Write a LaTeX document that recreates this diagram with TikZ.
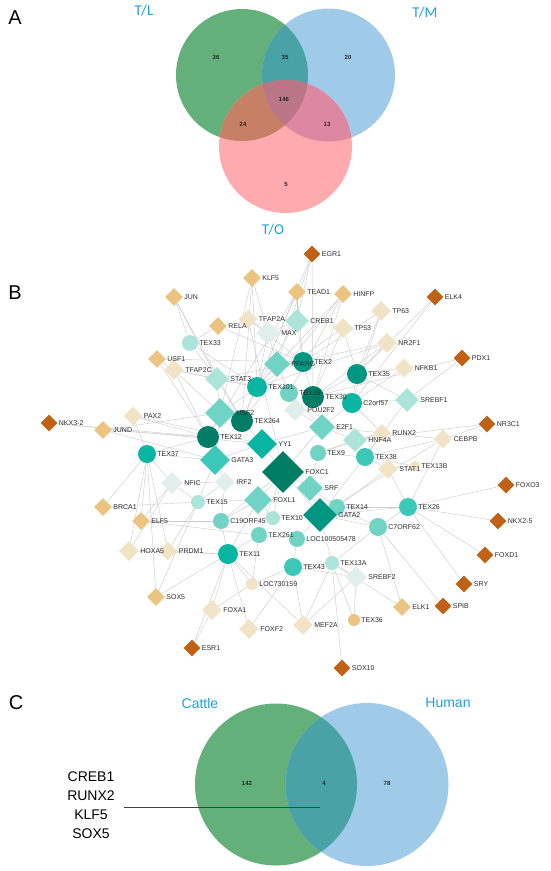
\documentclass[tikz,border=0pt]{standalone}
\usepackage{fontspec}
\setmainfont{Liberation Sans}
\newfontfamily\calib{Carlito}
\usetikzlibrary{shapes.geometric,backgrounds}

\definecolor{vgreen}{RGB}{99,176,122}
\definecolor{vblue}{RGB}{160,203,232}
\definecolor{vred}{RGB}{255,170,175}
\definecolor{vgb}{RGB}{72,162,166}
\definecolor{vgr}{RGB}{198,128,102}
\definecolor{vbr}{RGB}{220,136,160}
\definecolor{vgbr}{RGB}{186,118,135}
\definecolor{setblue}{RGB}{30,160,225}
\definecolor{brn}{RGB}{192,97,22}
\definecolor{orng}{RGB}{234,196,128}
\definecolor{beig}{RGB}{241,227,198}
\definecolor{teaA}{RGB}{0,125,100}
\definecolor{teaB}{RGB}{0,150,130}
\definecolor{teaC}{RGB}{10,182,162}
\definecolor{teaD}{RGB}{60,200,185}
\definecolor{teaE}{RGB}{112,211,196}
\definecolor{teaF}{RGB}{172,228,218}
\definecolor{teaG}{RGB}{224,238,236}
\definecolor{edgegray}{RGB}{205,205,205}
\definecolor{lblgray}{RGB}{45,45,45}

% genes drawn as circles: name/x/y/size/colour/label
\def\genelist{
  texts/354/620/12/orng/TEX36, loc/252/584/12/beig/LOC730159, texlb/415/466/10/beig/TEX13B,
  texmm/190/343/16/teaF/TEX33, texoo/257/387/20/teaC/TEX101, texb/303/362/20/teaB/TEX2,
  texnn/289/393/18/teaE/TEX29, texth/313/397/22/teaA/TEX30, texfi/357/374/20/teaB/TEX35,
  corf/352/403/20/teaC/C2orf57, texss/242/421/22/teaA/TEX264, texkk/208/437/22/teaA/TEX12,
  texsv/147/454/18/teaC/TEX37, texn/318/453/16/teaE/TEX9, texei/365/457/18/teaD/TEX38,
  texfo/337/507/16/teaE/TEX14, texsx/408/507/18/teaD/TEX26, csev/378/527/18/teaE/C7ORF62,
  texten/273/518/14/teaF/TEX10, locb/297/539/16/teaE/LOC100505478, texto/259/535/16/teaE/TEX261,
  cnine/221/521/16/teaE/C19ORF45, texff/198/502/14/teaF/TEX15, texel/228/554/20/teaC/TEX11,
  texfh/293/567/18/teaD/TEX43, texla/332/563/14/teaF/TEX13A}
% transcription factors drawn as diamonds
\def\tflist{
  egr/312/254/17/brn/EGR1, elkf/435/297/17/brn/ELK4, pdx/462/358/17/brn/PDX1,
  nrtc/487/424/17/brn/NR3C1, foxo/506/485/17/brn/FOXO3, nkxf/498/521/17/brn/NKX2-5,
  foxd/485/555/17/brn/FOXD1, sry/464/584/17/brn/SRY, spib/443/606/17/brn/SPIB,
  soxt/342/668/17/brn/SOX10, esr/192/648/17/brn/ESR1, nkxt/49/423/17/brn/NKX3-2,
  klf/252/278/18/orng/KLF5, jun/174/297/18/orng/JUN, tead/297/292/18/orng/TEAD1,
  hinfp/343/294/18/orng/HINFP, rela/218/326/18/orng/RELA, usfa/157/359/18/orng/USF1,
  jund/103/430/18/orng/JUND, brca/103/507/18/orng/BRCA1, elff/141/521/18/orng/ELF5,
  soxf/156/597/18/orng/SOX5, elka/402/607/18/orng/ELK1,
  tfapa/248/319/19/beig/TFAP2A, tpsix/381/311/20/beig/TP63, tpfive/343/328/20/beig/TP53,
  nrtf/387/343/20/beig/NR2F1, nfkb/404/368/19/beig/NFKB1, tfapc/174/370/20/beig/TFAP2C,
  pax/133/416/19/beig/PAX2, runx/382/433/18/beig/RUNX2, cebpb/443/439/19/beig/CEBPB,
  stata/388/469/20/beig/STAT1, hoxa/129/551/20/beig/HOXA5, prdm/168/551/19/beig/PRDM1,
  foxa/212/610/20/beig/FOXA1, foxf/249/629/20/beig/FOXF2, mef/303/625/20/beig/MEF2A,
  creb/297/321/24/teaF/CREB1, max/268/333/24/teaG/MAX, ppar/277/364/26/teaE/PPARG,
  statc/217/379/24/teaF/STAT3, usfb/220/413/30/teaE/USF2, gatac/215/460/30/teaD/GATA3,
  yy/262/444/30/teaC/YY1, foxc/283/472/42/teaA/FOXC1, foxl/258/500/28/teaE/FOXL1,
  srf/310/488/26/teaE/SRF, gatab/320/515/34/teaB/GATA2, etf/322/427/26/teaE/E2F1,
  hnf/355/440/24/teaF/HNF4A, srebfa/407/400/24/teaF/SREBF1, srebfb/356/577/22/teaG/SREBF2,
  nfic/172/483/22/teaG/NFIC, irf/225/482/20/teaG/IRF2, pou/295/410/22/teaG/POU2F2}

\begin{document}
\begin{tikzpicture}[
  x=1pt, y=-1pt,
  tf/.style={diamond, aspect=1, inner sep=0pt, draw=none},
  gn/.style={circle, inner sep=0pt, draw=none},
  lbl/.style={font=\fontsize{7}{8}\selectfont, text=lblgray, inner sep=0.5pt, anchor=west, xshift=0.5pt},
  edge/.style={draw=edgegray, line width=0.45pt},
  panel/.style={font=\fontsize{20}{24}\selectfont},
  setname/.style={text=setblue},
  count/.style={font=\fontsize{6}{7}\selectfont\bfseries, text=black!85},
]
  \useasboundingbox (0,0) rectangle (550,871);

  % panel A: three sets
  \node[panel] (pa) at (15,18) {A};
  \coordinate (tl) at (242,75);
  \coordinate (tm) at (328.5,75);
  \coordinate (to) at (285.5,146.5);
  \fill[vgreen] (tl) circle[radius=66];
  \fill[vblue] (tm) circle[radius=66.5];
  \fill[vred] (to) circle[radius=66.5];
  \begin{scope}
    \clip (tl) circle[radius=66];
    \fill[vgb] (tm) circle[radius=66.5];
    \fill[vgr] (to) circle[radius=66.5];
  \end{scope}
  \begin{scope}
    \clip (tm) circle[radius=66.5];
    \fill[vbr] (to) circle[radius=66.5];
    \clip (tl) circle[radius=66];
    \fill[vgbr] (to) circle[radius=66.5];
  \end{scope}
  \node[setname, font=\calib\fontsize{15}{16}\selectfont] (ntl) at (144,11) {T/L};
  \node[setname, font=\calib\fontsize{15}{16}\selectfont] (ntm) at (425,13) {T/M};
  \node[setname, font=\calib\fontsize{15}{16}\selectfont] (nto) at (273,230) {T/O};
  \node[count] (a36) at (216,57) {36};
  \node[count] (a35) at (285,57) {35};
  \node[count] (a20) at (348,57) {20};
  \node[count] (a146) at (284,99) {146};
  \node[count] (a24) at (243,124) {24};
  \node[count] (a13) at (327,124) {13};
  \node[count] (a5) at (286,184) {5};

  % panel B: network
  \node[panel] (pb) at (15,293) {B};
  \foreach \nm/\px/\py/\sz/\cl/\lab in \genelist
    \node[gn, minimum size=\sz, fill=\cl] (\nm) at (\px,\py) {};
  \foreach \nm/\px/\py/\sz/\cl/\lab in \tflist
    \node[tf, minimum size=\sz, fill=\cl] (\nm) at (\px,\py) {};
  % names on top of everything
  \foreach \nm/\px/\py/\sz/\cl/\lab in \genelist
    \node[lbl] (\nm-l) at (\nm.east) {\lab};
  \foreach \nm/\px/\py/\sz/\cl/\lab in \tflist
    \node[lbl] (\nm-l) at (\nm.east) {\lab};

  % interactions
  \begin{scope}[on background layer]
    \foreach \a/\b in {
      egr/texth, egr/ppar, egr/texoo, elkf/corf, elkf/texfi, pdx/texth, pdx/srebfa,
      nrtc/cebpb, nrtc/hnf, foxo/texsx, nkxf/texsx, foxd/texsx, sry/texsx, spib/csev,
      soxt/texla, esr/texel, esr/foxa, nkxt/texkk, klf/texoo, klf/texss, klf/max,
      jun/texmm, jun/texss, tead/creb, tead/texkk, tead/texb, hinfp/texoo, hinfp/texth,
      hinfp/texss, rela/texmm, rela/texb, usfa/texb, usfa/tfapc, usfa/texkk, jund/texkk,
      jund/gatac, brca/texsv, brca/texff, elff/texsv, elff/cnine, elff/texto, soxf/texsv,
      soxf/texel, elka/csev, elka/texla, texts/texla, texts/srebfb, tfapa/texb, tfapa/max,
      tfapa/foxc, tpsix/texfi, tpsix/corf, tpfive/texth, tpfive/texfi, tpfive/usfb,
      nrtf/texfi, nrtf/texth, nrtf/statc, nfkb/texfi, nfkb/corf, tfapc/texoo, tfapc/usfb,
      tfapc/texkk, pax/texsv, pax/texkk, pax/yy, runx/hnf, runx/corf, runx/texei,
      cebpb/texei, cebpb/texsx, cebpb/gatab, stata/texei, stata/texsx, stata/texfo,
      hoxa/texsv, hoxa/nfic, hoxa/texel, prdm/texel, prdm/texsv, prdm/texff, foxa/texel,
      foxa/loc, foxf/texel, foxf/texfh, mef/texfh, mef/srebfb, mef/texel, loc/texel,
      loc/texfh, loc/texto, texlb/stata, texlb/texei, creb/texb, creb/max, creb/texoo,
      max/texoo, max/ppar, ppar/texb, ppar/texoo, ppar/texnn, statc/texoo, statc/usfb,
      statc/texss, usfb/texss, usfb/texkk, usfb/gatac, gatac/texkk, gatac/yy, gatac/irf,
      yy/foxc, yy/texss, yy/etf, foxc/gatab, foxc/srf, foxc/foxl, foxc/texten, foxc/etf,
      foxl/texten, foxl/cnine, foxl/texff, srf/gatab, srf/texn, srf/texfo, gatab/texfo,
      gatab/locb, gatab/texten, gatab/texsx, etf/texnn, etf/texth, etf/hnf, hnf/texei,
      hnf/texn, srebfa/corf, srebfa/texfi, srebfb/texla, srebfb/texfh, nfic/texsv,
      nfic/texff, nfic/irf, irf/texff, irf/cnine, pou/texnn, pou/texth, pou/etf,
      texmm/texoo, texfi/corf, texfi/texth, texn/texei, texsx/csev, texsx/texfo,
      csev/texfo, csev/gatab, locb/texto, locb/texfh, texel/texto, texel/cnine,
      texfh/texla, nkxt/yy, jund/usfb, texsv/texkk, texsv/gatac, tfapc/statc,
      texmm/statc, corf/etf, texb/texth, texoo/texss, texel/foxl, texla/gatab,
      csev/texla, texto/foxc, cnine/foxc, texff/gatac, nrtf/texoo, tpsix/texb,
      tead/texss, hinfp/texnn, klf/usfb, jun/statc, egr/creb, texei/gatab,
      srebfa/texei, cebpb/etf, runx/texn, mef/texla, soxf/texff, elff/nfic}
      \draw[edge] (\a) -- (\b);
  \end{scope}

  % panel C: cattle vs human
  \node[panel] (pc) at (16,703) {C};
  \coordinate (ct) at (276,784.5);
  \coordinate (hu) at (367,784.5);
  \fill[vgreen] (ct) circle[radius=81];
  \fill[vblue] (hu) circle[radius=81.5];
  \begin{scope}
    \clip (ct) circle[radius=81];
    \fill[vgb] (hu) circle[radius=81.5];
  \end{scope}
  \node[setname, font=\fontsize{14}{16}\selectfont] (ncat) at (200,703) {Cattle};
  \node[setname, font=\fontsize{14}{16}\selectfont] (nhum) at (448,703) {Human};
  \node[count] (c142) at (247,783) {142};
  \node[count] (c4) at (324,783) {4};
  \node[count] (c78) at (387,783) {78};
  \node[font=\fontsize{14}{16}\selectfont, align=center] (shared) at (91,805)
    {CREB1\\[3pt]RUNX2\\[3pt]KLF5\\[3pt]SOX5};
  \coordinate (ptrs) at (124,807);
  \coordinate (ptr) at (320,807);
  \draw[black!75, line width=0.6pt] (ptrs) -- (ptr);
\end{tikzpicture}
\end{document}
